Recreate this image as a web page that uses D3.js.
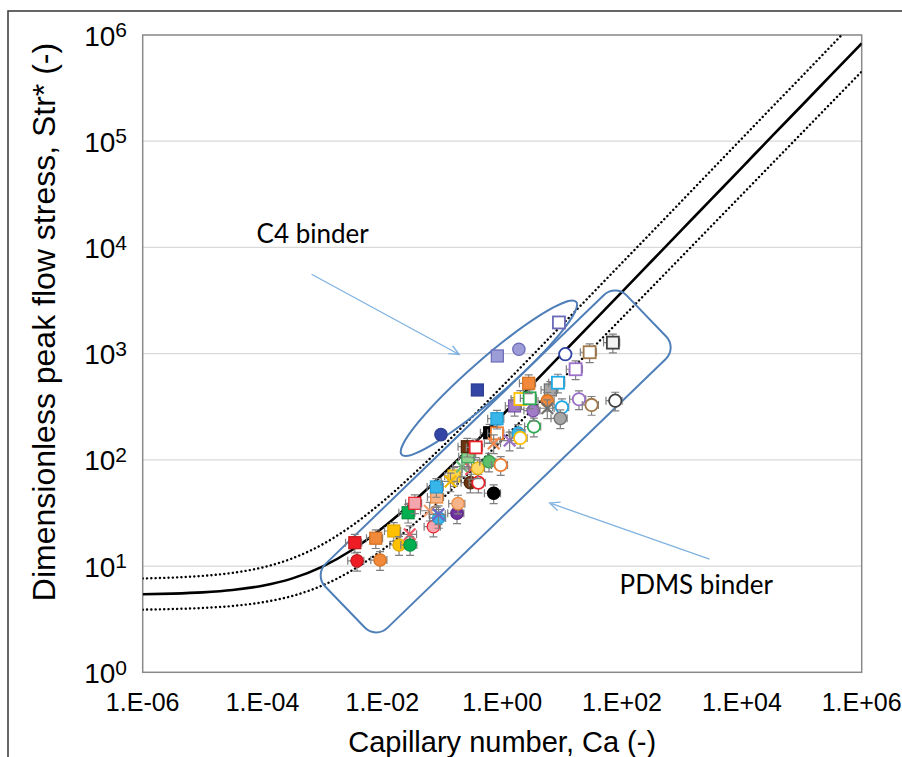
<!DOCTYPE html>
<html><head><meta charset="utf-8">
<script src="https://cdn.jsdelivr.net/npm/d3@7"></script>
<style>
html,body{margin:0;padding:0;background:#fff;}
svg{display:block;}
</style></head>
<body>
<svg id="chart" width="902" height="757"></svg>
<script>
// ---------- DATA ----------
const xTicks = [1e-6, 1e-4, 1e-2, 1e0, 1e2, 1e4, 1e6];
const xTickLabels = ["1.E-06","1.E-04","1.E-02","1.E+00","1.E+02","1.E+04","1.E+06"];
const yTicks = [1e0, 1e1, 1e2, 1e3, 1e4, 1e5, 1e6];
const yTickExp = ["0","1","2","3","4","5","6"];

// Model curves
const curveCa = [1e-6,3.16e-6,1e-5,3.16e-5,1e-4,3.16e-4,1e-3,3.16e-3,1e-2,3.16e-2,1e-1,3.16e-1,1,3.16,10,31.6,100,316,1e3,3.16e3,1e4,3.16e4,1e5,3.16e5,1e6];
const fitStr   = [5.43,5.51,5.66,5.95,6.53,7.66,9.89,14.25,22.8,39.6,72.5,137,263,511,998,1950,3820,7490,14700,28800,56500,111000,217000,426000,835000];
const upperStr = [7.65,7.79,8.08,8.63,9.71,11.84,16.0,24.2,40.2,71.7,133,254,492,957,1870,3660,7170,14000,27500,54000,106000,208000,407000,799000,1570000];
const lowerStr = [3.89,3.94,4.03,4.21,4.56,5.24,6.57,9.16,14.2,24.1,43.3,80.8,154,296,574,1116,2172,4231,8246,16080,31340,61110,119150,232350,453000];

// C4 binder points (no error bars)
const c4Ca  = [0.095, 0.385, 0.83, 1.9, 8.85, 11.3];
const c4Str = [173, 455, 951, 1100, 1967, 989];
const c4Marker = ["ci-navy","sq-navy","sq-lav","ci-lav","osq-lav","oci-navy"];

// PDMS binder points (with error bars)
const pdmsCa = [0.00347,0.00378,0.00776,0.00916,0.0155,0.0190,0.0286,0.0290,0.0269,0.0348,
  0.0711,0.0618,0.0873,0.0863,0.0807,0.0798,0.176,0.183,0.157,0.137,
  0.294,0.401,0.721,0.213,0.306,0.390,0.268,0.603,0.944,0.262,
  0.361,0.618,0.818,0.721,1.33,1.85,2.0,3.38,3.29,0.818,
  1.61,2.01,2.87,2.77,6.36,8.51,5.66,5.66,9.93,9.33,
  19.1,31.0,77.1,16.8,28.8,70.3];
const pdmsStr = [16.6,11.2,18.3,11.4,21.4,15.8,19.9,15.8,31.8,39.0,
  23.5,33.2,28.4,30.7,44.7,55.6,31.4,38.7,70.5,62.6,
  61.0,61.0,48.5,86.3,82.1,83.4,107,96.2,89.5,133,
  131,180,178,143,152,179,161,206,291,244,
  322,374,380,526,455,533,359,306,313,246,
  372,329,361,713,1031,1270];
const pdmsMarker = ["sq-red","ci-red","sq-orange","ci-orange","sq-gold","ci-gold","x-pink","ci-green","sq-green","sq-pink",
  "ci-pink","x-peach","ci-sky","x-blue","sq-peach","sq-sky","ci-purple","ci-peach","sq-lgold","x-gold",
  "ci-brown","oci-red","ci-black","x-green","x-red","ci-lgold","sq-lgreen","ci-mgreen","oci-orange","sq-brown",
  "osq-red","sq-black","osq-orange","x-orange","x-lpurple","ci-sky","oci-gold","oci-green","ci-lpurple","sq-sky",
  "sq-lpurple","osq-gold","osq-green","sq-orange","sq-gray","osq-sky","ci-orange","x-gray","oci-sky","ci-gray",
  "oci-lpurple","oci-tan","oci-black","osq-lpurple","osq-tan","osq-black"];
const pdmsErrY = 0.2;   // relative error on Str*
const pdmsErrX = 0.3;   // relative error on Ca

// ---------- STYLES ----------
const markerStyles = {
  "sq-red":["square","#EE1C25","#C3161C"], "ci-red":["circle","#EE1C25","#C3161C"],
  "sq-orange":["square","#F08A3A","#D4701E"], "ci-orange":["circle","#F08A3A","#D4701E"],
  "sq-gold":["square","#FFC000","#E0A800"], "ci-gold":["circle","#FFC000","#E0A800"],
  "sq-lgold":["square","#FFD24D","#E6B000"], "ci-lgold":["circle","#FFD966","#E6B000"],
  "x-gold":["x",null,"#F2B800"], "x-pink":["x",null,"#F05A6A"],
  "ci-green":["circle","#00B050","#009040"], "sq-green":["square","#00B050","#009040"],
  "sq-pink":["square","#F4A6AE","#E8202A"], "ci-pink":["circle","#F4A6AE","#E8202A"],
  "x-peach":["x",null,"#F4A070"], "ci-sky":["circle","#38B6EA","#1E9ED6"],
  "x-blue":["x",null,"#6A6AC8"], "sq-peach":["square","#F6B48A","#E8883C"],
  "sq-sky":["square","#38B6EA","#1E9ED6"], "ci-purple":["circle","#7030A0","#5A2585"],
  "ci-peach":["circle","#F6B48A","#E8883C"], "ci-brown":["circle","#6B3410","#4E250A"],
  "oci-red":["circle","#fff","#E8202A"], "ci-black":["circle","#000","#000"],
  "x-green":["x",null,"#6CC07C"], "x-red":["x",null,"#F05060"],
  "sq-lgreen":["square","#8ED08E","#3AA655"], "ci-mgreen":["circle","#5CBF6C","#3A9A4C"],
  "oci-orange":["circle","#fff","#ED7D31"], "sq-brown":["square","#6B3410","#4E250A"],
  "osq-red":["square","#fff","#E8202A"], "sq-black":["square","#000","#000"],
  "osq-orange":["square","#fff","#ED7D31"], "x-orange":["x",null,"#F08A50"],
  "x-lpurple":["x",null,"#9A70C8"], "oci-gold":["circle","#fff","#FFC000"],
  "oci-green":["circle","#fff","#2EAA50"], "ci-lpurple":["circle","#A27BC8","#7B52A8"],
  "sq-lpurple":["square","#A27BC8","#7B52A8"], "osq-gold":["square","#fff","#FFC000"],
  "osq-green":["square","#fff","#2EAA50"], "sq-gray":["square","#A6A6A6","#6E6E6E"],
  "osq-sky":["square","#fff","#1EA8E6"], "x-gray":["x",null,"#707070"],
  "oci-sky":["circle","#fff","#1EA8E6"], "ci-gray":["circle","#A6A6A6","#6E6E6E"],
  "oci-lpurple":["circle","#fff","#9A70C8"], "oci-tan":["circle","#fff","#A0784A"],
  "oci-black":["circle","#fff","#404040"], "osq-lpurple":["square","#fff","#9A70C8"],
  "osq-tan":["square","#fff","#A0784A"], "osq-black":["square","#F2F2F2","#404040"],
  "ci-navy":["circle","#3346A5","#2B3C8F"], "sq-navy":["square","#3346A5","#2B3C8F"],
  "sq-lav":["square","#9C9CD6","#6A6AB8"], "ci-lav":["circle","#9C9CD6","#6A6AB8"],
  "osq-lav":["square","#fff","#6A6AB8"], "oci-navy":["circle","#fff","#3346A5"]
};

// ---------- LAYOUT ----------
const W = 902, H = 757;
const plot = {left:142.7, right:861.7, top:35, bottom:672.3};
const svg = d3.select("#chart");
const x = d3.scaleLog().domain([1e-6,1e6]).range([plot.left, plot.right]);
const y = d3.scaleLog().domain([1,1e6]).range([plot.bottom, plot.top]);

// outer frame
svg.append("rect").attr("x",8).attr("y",11).attr("width",W+20).attr("height",H+20)
  .attr("fill","none").attr("stroke","#404040").attr("stroke-width",1.6);

// gridlines
svg.append("g").selectAll("line").data(yTicks.slice(1)).join("line")
  .attr("x1",plot.left).attr("x2",plot.right)
  .attr("y1",d=>y(d)).attr("y2",d=>y(d))
  .attr("stroke","#D9D9D9").attr("stroke-width",1.2);

// plot border
svg.append("rect").attr("x",plot.left).attr("y",plot.top)
  .attr("width",plot.right-plot.left).attr("height",plot.bottom-plot.top)
  .attr("fill","none").attr("stroke","#8A8A8A").attr("stroke-width",1.5);

// x tick labels
const fontAx = "'Liberation Sans', Arial, sans-serif";
svg.append("g").selectAll("text").data(xTicks).join("text")
  .attr("x",d=>x(d)).attr("y",711).attr("text-anchor","middle")
  .attr("font-family",fontAx).attr("font-size",25).attr("fill","#000")
  .text((d,i)=>xTickLabels[i]);

// y tick labels 10^n
const yl = svg.append("g").selectAll("text").data(yTicks).join("text")
  .attr("x",127).attr("y",d=>y(d)+10.6).attr("text-anchor","end")
  .attr("font-family",fontAx).attr("font-size",28).attr("fill","#000");
yl.append("tspan").text("10");
yl.append("tspan").attr("font-size",21).attr("dy",-8.4).text((d,i)=>yTickExp[i]);

// axis titles
svg.append("text").attr("x",(plot.left+plot.right)/2).attr("y",752)
  .attr("text-anchor","middle").attr("font-family",fontAx).attr("font-size",29)
  .text("Capillary number, Ca (-)");
svg.append("text").attr("transform","translate(55,322) rotate(-90)")
  .attr("text-anchor","middle").attr("font-family",fontAx).attr("font-size",32)
  .text("Dimensionless peak flow stress, Str* (-)");

// clip
svg.append("clipPath").attr("id","clip").append("rect")
  .attr("x",plot.left).attr("y",plot.top).attr("width",plot.right-plot.left).attr("height",plot.bottom-plot.top);
const gPlot = svg.append("g").attr("clip-path","url(#clip)");

// curves
const line = (vals)=> d3.line().curve(d3.curveMonotoneX)
  .x((d,i)=>x(curveCa[i])).y(d=>y(d))(vals);
gPlot.append("path").attr("d",line(upperStr)).attr("fill","none").attr("stroke","#000")
  .attr("stroke-width",2.4).attr("stroke-dasharray","0.1,4.2").attr("stroke-linecap","round");
gPlot.append("path").attr("d",line(lowerStr)).attr("fill","none").attr("stroke","#000")
  .attr("stroke-width",2.4).attr("stroke-dasharray","0.1,4.2").attr("stroke-linecap","round");
gPlot.append("path").attr("d",line(fitStr)).attr("fill","none").attr("stroke","#000")
  .attr("stroke-width",2.6);

// annotations (shapes)
const annoColor = "#4F7FB8";
const ell = {ca:0.6, str:586, rx:116, ry:19, rot:-41.2};
svg.append("ellipse").attr("cx",0).attr("cy",0).attr("rx",ell.rx).attr("ry",ell.ry)
  .attr("transform",`translate(${x(ell.ca)},${y(ell.str)}) rotate(${ell.rot})`)
  .attr("fill","none").attr("stroke",annoColor).attr("stroke-width",2);
const box = {ca:0.778, str:96.6, w:419, h:89, r:16, rot:-44};
svg.append("rect").attr("x",-box.w/2).attr("y",-box.h/2).attr("width",box.w).attr("height",box.h)
  .attr("rx",box.r).attr("ry",box.r)
  .attr("transform",`translate(${x(box.ca)},${y(box.str)}) rotate(${box.rot})`)
  .attr("fill","none").attr("stroke",annoColor).attr("stroke-width",2);

// markers
const gPts = svg.append("g");
function drawMarker(g, cx, cy, key){
  const [shape, fill, stroke] = markerStyles[key];
  if(shape==="square"){
    g.append("rect").attr("x",cx-6).attr("y",cy-6).attr("width",12).attr("height",12)
      .attr("fill",fill).attr("stroke",stroke).attr("stroke-width",fill==="#fff"||fill==="#F2F2F2"?1.8:1.2);
  } else if(shape==="circle"){
    g.append("circle").attr("cx",cx).attr("cy",cy).attr("r",6.2)
      .attr("fill",fill).attr("stroke",stroke).attr("stroke-width",fill==="#fff"?1.8:1.2);
  } else {
    const s=5.8;
    g.append("path").attr("d",`M${cx-s},${cy-s}L${cx+s},${cy+s}M${cx-s},${cy+s}L${cx+s},${cy-s}`)
      .attr("stroke",stroke).attr("stroke-width",2.2).attr("fill","none");
  }
}
const ebColor = "#7F7F7F", cap = 4;
pdmsCa.forEach((ca,i)=>{
  const cx=x(ca), cy=y(pdmsStr[i]);
  const y1=y(pdmsStr[i]*(1+pdmsErrY)), y2=y(pdmsStr[i]*(1-pdmsErrY));
  const x1=x(ca*(1-pdmsErrX)), x2=x(ca*(1+pdmsErrX));
  gPts.append("path").attr("fill","none").attr("stroke",ebColor).attr("stroke-width",1.2)
    .attr("d",`M${cx},${y1}L${cx},${y2}M${cx-cap},${y1}L${cx+cap},${y1}M${cx-cap},${y2}L${cx+cap},${y2}`+
      `M${x1},${cy}L${x2},${cy}M${x1},${cy-cap}L${x1},${cy+cap}M${x2},${cy-cap}L${x2},${cy+cap}`);
  drawMarker(gPts, cx, cy, pdmsMarker[i]);
});
c4Ca.forEach((ca,i)=> drawMarker(gPts, x(ca), y(c4Str[i]), c4Marker[i]));

// arrows and labels
const arrowColor = "#7FB2E0";
function arrow(a, b){
  const x0=x(a[0]), y0=y(a[1]), x1=x(b[0]), y1=y(b[1]);
  const ang=Math.atan2(y1-y0,x1-x0), L=11, sp=0.42;
  svg.append("path").attr("fill","none").attr("stroke",arrowColor).attr("stroke-width",1.3)
    .attr("d",`M${x0},${y0}L${x1},${y1}M${x1-L*Math.cos(ang-sp)},${y1-L*Math.sin(ang-sp)}L${x1},${y1}L${x1-L*Math.cos(ang+sp)},${y1-L*Math.sin(ang+sp)}`);
}
arrow([6.58e-4,5598],[0.192,982]);
arrow([2884,11.6],[6.19,39.3]);
const fontLab = "Lato, 'Open Sans', sans-serif";
svg.append("text").attr("x",x(7.96e-5)).attr("y",y(10965)).attr("font-family",fontLab)
  .attr("font-size",26).attr("fill","#000").text("C4 binder");
svg.append("text").attr("x",x(91)).attr("y",y(5.42)).attr("font-family",fontLab)
  .attr("font-size",26).attr("fill","#000").text("PDMS binder");
</script>
</body></html>
